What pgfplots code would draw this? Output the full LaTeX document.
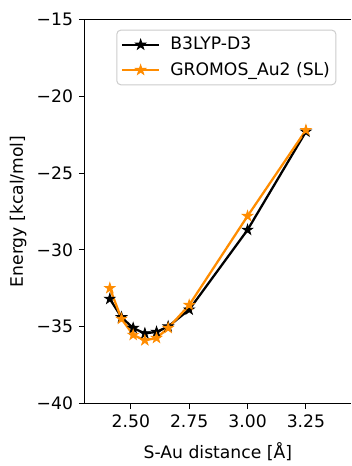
\documentclass[border=0pt]{standalone}
\usepackage{fontspec}
\setmainfont{DejaVu Sans}
\usepackage{pgfplots}
\pgfplotsset{compat=1.18}
\definecolor{morange}{HTML}{FF8C00}
\pgfdeclareplotmark{fstar}{%
  \pgfpathmoveto{\pgfpointpolar{90}{\pgfplotmarksize}}%
  \pgfpathlineto{\pgfpointpolar{126}{0.382\pgfplotmarksize}}%
  \pgfpathlineto{\pgfpointpolar{162}{\pgfplotmarksize}}%
  \pgfpathlineto{\pgfpointpolar{198}{0.382\pgfplotmarksize}}%
  \pgfpathlineto{\pgfpointpolar{234}{\pgfplotmarksize}}%
  \pgfpathlineto{\pgfpointpolar{270}{0.382\pgfplotmarksize}}%
  \pgfpathlineto{\pgfpointpolar{306}{\pgfplotmarksize}}%
  \pgfpathlineto{\pgfpointpolar{342}{0.382\pgfplotmarksize}}%
  \pgfpathlineto{\pgfpointpolar{18}{\pgfplotmarksize}}%
  \pgfpathlineto{\pgfpointpolar{54}{0.382\pgfplotmarksize}}%
  \pgfpathclose
  \pgfusepathqfillstroke}
\pgfplotstableread{
x y
2.41 -33.2
2.46 -34.4
2.51 -35.1
2.56 -35.45
2.61 -35.35
2.66 -35.0
2.75 -33.9
3.00 -28.7
3.25 -22.3
}\bthree
\pgfplotstableread{
x y
2.41 -32.5
2.46 -34.5
2.51 -35.55
2.56 -35.9
2.61 -35.75
2.66 -35.1
2.75 -33.6
3.00 -27.8
3.25 -22.2
}\gromos
\begin{document}
\fontsize{17.5}{21}\selectfont
\begin{tikzpicture}
\begin{axis}[
  name=ax,
  scale only axis,
  width=270bp, height=389bp,
  xmin=2.3027, xmax=3.443,
  ymin=-40, ymax=-15,
  axis x line*=box,
  axis y line*=left,
  axis line style={line width=1.1bp, black},
  xtick pos=bottom, ytick pos=left,
  tick align=outside,
  major tick length=6bp,
  every tick/.style={black, line width=1.1bp},
  xtick={2.5,2.75,3.0,3.25},
  xticklabels={2.50,2.75,3.00,3.25},
  ytick={-40,-35,-30,-25,-20,-15},
  yticklabels={−40,−35,−30,−25,−20,−15},
  tick label style={font=\fontsize{17.5}{21}\selectfont},
  xlabel={S-Au distance [Å]},
  ylabel={Energy [kcal/mol]},
  xlabel style={at={(axis description cs:0.5,-0.125)},anchor=center},
  ylabel style={at={(axis description cs:-0.25,0.5)},anchor=center},
  legend style={at={(axis description cs:0.1185,0.974)}, anchor=north west,
    draw=black!20, rounded corners=4bp, fill=white, line width=1bp,
    font=\fontsize{17.5}{21}\selectfont, inner xsep=4bp, inner ysep=5bp,
    row sep=6bp},
  legend cell align=left,
  legend image code/.code={\draw[mark repeat=2,mark phase=2] plot coordinates {(0bp,0bp)(19bp,0bp)(38bp,0bp)};\path (46bp,0bp);},
]
\addplot[black, line width=2.3bp, mark=fstar, mark size=5.5bp, mark options={solid, line width=0.8bp}] table {\bthree};
\addlegendentry{B3LYP-D3}
\addplot[morange, line width=2.3bp, mark=fstar, mark size=5.5bp, mark options={solid, line width=0.8bp}] table {\gromos};
\addlegendentry{GROMOS\_Au2 (SL)}
\end{axis}
\path[use as bounding box] ([shift={(-86bp,-57bp)}]ax.south west) rectangle ([shift={(0bp,20bp)}]ax.north east);
\end{tikzpicture}
\end{document}
